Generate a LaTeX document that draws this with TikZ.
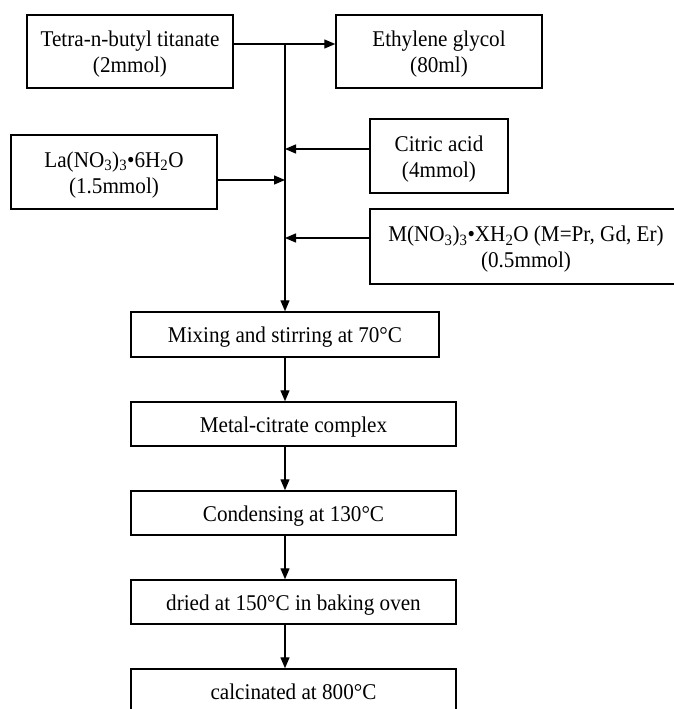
\documentclass[tikz,border=0pt]{standalone}
\usepackage{fontspec}
\setmainfont{Liberation Serif}[FakeStretch=0.94]
\usetikzlibrary{arrows.meta}
\newcommand\toprule{\rule{0pt}{21.8pt}}
\newcommand\botrule{\rule[-5pt]{0pt}{5pt}}
\begin{document}
\begin{tikzpicture}[x=1pt,y=-1pt,
  box/.style={draw,line width=1.5pt,inner sep=0pt,align=center,
    font=\fontsize{22.5}{26}\selectfont,
    execute at begin node=\toprule, execute at end node=\botrule},
  arr/.style={line width=1.4pt,-{Triangle[length=11pt,width=9pt]}}]
\useasboundingbox (0,0) rectangle (674,709);
\node[box,minimum width=206pt,minimum height=73pt] (tet) at (130,51.5) {\toprule Tetra-n-butyl titanate\\(2mmol)};
\node[box,minimum width=206pt,minimum height=73pt] (eth) at (439,51.5) {\toprule Ethylene glycol\\(80ml)};
\node[box,minimum width=138pt,minimum height=74pt] (cit) at (439,156) {\toprule Citric acid\\(4mmol)};
\node[box,minimum width=206pt,minimum height=74pt] (la) at (114,172) {\toprule La(NO\textsubscript{3})\textsubscript{3}•6H\textsubscript{2}O\\(1.5mmol)};
\node[box,minimum width=312pt,minimum height=75pt] (mn) at (526,246.5) {\toprule M(NO\textsubscript{3})\textsubscript{3}•XH\textsubscript{2}O (M=Pr, Gd, Er)\\(0.5mmol)};
\node[box,minimum width=308pt,minimum height=45pt] (mix) at (285,334.5) {Mixing and stirring at 70°C};
\node[box,minimum width=325pt,minimum height=44pt] (mc) at (293.5,424) {Metal-citrate complex};
\node[box,minimum width=325pt,minimum height=44pt] (con) at (293.5,513) {Condensing at 130°C};
\node[box,minimum width=325pt,minimum height=44pt] (dry) at (293.5,602) {dried at 150°C in baking oven};
\node[box,minimum width=325pt,minimum height=44pt] (cal) at (293.5,691) {calcinated at 800°C};
\coordinate (j0) at (285,44);
\coordinate (j1) at (285,149);
\coordinate (j2) at (285,180);
\coordinate (j3) at (285,238);
\draw[arr] (tet.east |- j0) -- (eth.west |- j0);
\draw[arr] (j0) -- (mix.north);
\draw[arr] (cit.west |- j1) -- (j1);
\draw[arr] (la.east |- j2) -- (j2);
\draw[arr] (mn.west |- j3) -- (j3);
\draw[arr] (mix.south) -- (mix.south |- mc.north);
\draw[arr] (mix.south |- mc.south) -- (mix.south |- con.north);
\draw[arr] (mix.south |- con.south) -- (mix.south |- dry.north);
\draw[arr] (mix.south |- dry.south) -- (mix.south |- cal.north);
\end{tikzpicture}
\end{document}
